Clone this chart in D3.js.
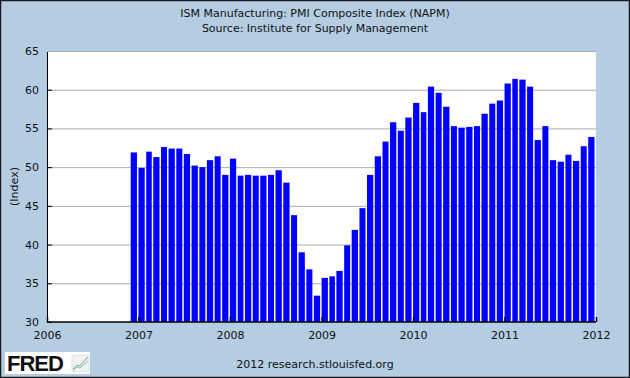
<!DOCTYPE html>
<html>
<head>
<meta charset="utf-8">
<script src="https://cdn.jsdelivr.net/npm/d3@7"></script>
<style>
  body { margin: 0; background: #fff; }
  text { font-family: "DejaVu Sans", sans-serif; fill: #111; }
</style>
</head>
<body>
<div id="plot"></div>
<script>
// monthly PMI, Dec 2006 .. Dec 2011
const startMonth = "2006-12";
const pmi = [
  51.9,
  49.9, 52.0, 51.3, 52.6, 52.4, 52.4, 51.7, 50.2, 50.0, 50.9, 51.4, 49.0,
  51.1, 48.9, 49.0, 48.9, 48.9, 49.0, 49.6, 48.0, 43.8, 39.0, 36.8, 33.4,
  35.7, 35.9, 36.6, 39.9, 41.9, 44.7, 49.0, 51.4, 53.3, 55.8, 54.7, 56.4,
  58.3, 57.1, 60.4, 59.6, 57.8, 55.3, 55.1, 55.2, 55.3, 56.9, 58.2, 58.6,
  60.8, 61.4, 61.3, 60.4, 53.5, 55.3, 50.9, 50.7, 51.6, 50.8, 52.7, 53.9
];
const yTicks = [30, 35, 40, 45, 50, 55, 60, 65];
const xYears = [2006, 2007, 2008, 2009, 2010, 2011, 2012];

const W = 630, H = 378;
const margin = { top: 51, right: 34, bottom: 56, left: 47 };
const width = W - margin.left - margin.right;
const height = H - margin.top - margin.bottom;

const parseMonth = d3.timeParse("%Y-%m");
const start = parseMonth(startMonth);
const data = pmi.map((v, i) => ({ date: d3.timeMonth.offset(start, i), value: v }));

const svg = d3.select("#plot").append("svg")
  .attr("width", W)
  .attr("height", H);

// background + frame
svg.append("rect")
  .attr("x", 0.5).attr("y", 0.5)
  .attr("width", W - 1).attr("height", H - 1)
  .attr("fill", "#b4cde3")
  .attr("stroke", "#1a1a1a")
  .attr("stroke-width", 1.5);

// titles
svg.append("text")
  .attr("x", W / 2).attr("y", 17)
  .attr("text-anchor", "middle")
  .style("font-size", "11px")
  .text("ISM Manufacturing: PMI Composite Index (NAPM)");
svg.append("text")
  .attr("x", W / 2).attr("y", 32)
  .attr("text-anchor", "middle")
  .style("font-size", "11px")
  .text("Source: Institute for Supply Management");

const g = svg.append("g")
  .attr("transform", "translate(" + margin.left + "," + margin.top + ")");

const xScale = d3.scaleTime()
  .domain([new Date(xYears[0], 0, 1), new Date(xYears[xYears.length - 1], 0, 1)])
  .range([0, width]);
const yScale = d3.scaleLinear().domain([30, 65]).range([height, 0]);

g.append("rect")
  .attr("width", width).attr("height", height)
  .attr("fill", "#fff");

// gridlines
g.append("g")
  .selectAll("line")
  .data(yTicks.slice(1))
  .join("line")
  .attr("x1", 0).attr("x2", width)
  .attr("y1", d => yScale(d) + 0.5).attr("y2", d => yScale(d) + 0.5)
  .attr("stroke", "#aaaaaa")
  .attr("stroke-width", 1);

// bars
g.append("g")
  .selectAll("rect")
  .data(data)
  .join("rect")
  .attr("x", d => xScale(d.date))
  .attr("width", d => xScale(d3.timeMonth.offset(d.date, 1)) - xScale(d.date) - 1.5)
  .attr("y", d => yScale(d.value))
  .attr("height", d => height - yScale(d.value))
  .attr("fill", "#0000ff");

// y axis
const yAxis = g.append("g")
  .call(d3.axisLeft(yScale).tickValues(yTicks).tickSize(-5).tickPadding(8));
yAxis.select(".domain").attr("stroke", "#000").attr("d", "M0.5,0V" + height);
yAxis.selectAll(".tick line").attr("stroke", "#000");
yAxis.selectAll("text").style("font-size", "11px").attr("fill", "#111");

// x axis
const xAxis = g.append("g")
  .attr("transform", "translate(0," + height + ")")
  .call(d3.axisBottom(xScale)
    .tickValues(xYears.map(y => new Date(y, 0, 1)))
    .tickFormat(d3.timeFormat("%Y"))
    .tickSize(-5).tickPadding(9));
xAxis.select(".domain").attr("stroke", "#000").attr("stroke-width", 1.5).attr("d", "M0,0H" + width);
xAxis.selectAll(".tick line").attr("stroke", "#000").attr("stroke-width", 1.5);
xAxis.selectAll("text").style("font-size", "11px").attr("fill", "#111");

// top border of plot
g.append("line")
  .attr("x1", 0).attr("x2", width)
  .attr("y1", 0.5).attr("y2", 0.5)
  .attr("stroke", "#aaaaaa");

// y label
svg.append("text")
  .attr("transform", "translate(18," + (margin.top + height / 2) + ") rotate(-90)")
  .attr("text-anchor", "middle")
  .style("font-size", "11px")
  .text("(Index)");

// footer
svg.append("text")
  .attr("x", W / 2).attr("y", 368)
  .attr("text-anchor", "middle")
  .style("font-size", "11px")
  .text("2012 research.stlouisfed.org");

// FRED logo
const logo = svg.append("g").attr("transform", "translate(5,352)");
logo.append("rect").attr("width", 85).attr("height", 22).attr("fill", "#fff");
logo.append("text")
  .attr("x", 2).attr("y", 19)
  .style("font-family", "'Liberation Sans', Arial, sans-serif")
  .style("font-weight", "bold")
  .style("font-size", "22px")
  .style("letter-spacing", "-1px")
  .attr("fill", "#222")
  .text("FRED");
logo.append("rect").attr("x", 67).attr("y", 3).attr("width", 17).attr("height", 17)
  .attr("fill", "#eef2f0").attr("stroke", "#ccc").attr("stroke-width", 0.5);
logo.append("path").attr("d", "M68,17 L72,13 L75,14 L79,9 L83,5")
  .attr("fill", "none").attr("stroke", "#7aa7d9").attr("stroke-width", 1);
logo.append("path").attr("d", "M68,18 L72,15 L75,16 L79,12 L83,9")
  .attr("fill", "none").attr("stroke", "#8cc06a").attr("stroke-width", 1);
</script>
</body>
</html>
